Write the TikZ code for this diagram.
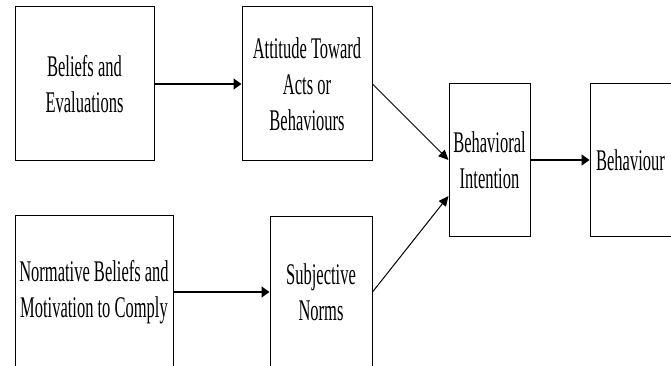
\documentclass[tikz,border=0pt]{standalone}
\usepackage{fontspec}
\newfontfamily\condserif[FakeStretch=0.55]{Liberation Serif}
\usetikzlibrary{arrows.meta}
\begin{document}
\begin{tikzpicture}[x=1pt,y=-1pt,
  box/.style={draw=black, line width=1pt, inner sep=0pt, align=center,
    font=\condserif\fontsize{30}{36}\selectfont},
  link/.style={line width=1.4pt, -{Triangle[length=8pt,width=11pt]}},
  slant/.style={line width=1pt, -{Triangle[length=10pt,width=9pt]}}]
\useasboundingbox (0,0) rectangle (671,366);
\begin{scope}
\clip (0,0) rectangle (671,366);
\node[box, minimum width=139pt, minimum height=154pt] (be) at (84.5,84) {Beliefs and\\Evaluations};
\node[box, minimum width=130pt, minimum height=154pt] (at) at (307,84) {Attitude Toward\\Acts or\\Behaviours};
\node[box, minimum width=158pt, minimum height=154pt] (nb) at (94,292) {Normative Beliefs and\\Motivation to Comply};
\node[box, minimum width=102pt, minimum height=152pt] (sn) at (321,292) {Subjective\\Norms};
\node[box, minimum width=81pt, minimum height=152pt] (bi) at (489.5,160) {Behavioral\\Intention};
\node[box, minimum width=81pt, minimum height=152pt] (bh) at (630.5,160) {Behaviour};
\coordinate (bilow) at ([yshift=-36pt]bi.west);
\draw[link] (be.east) -- (at.west);
\draw[link] (nb.east) -- (sn.west);
\draw[link] (bi.east) -- (bh.west);
\draw[slant] (at.east) -- (bi.west);
\draw[slant] (sn.east) -- (bilow);
\end{scope}
\end{tikzpicture}
\end{document}
